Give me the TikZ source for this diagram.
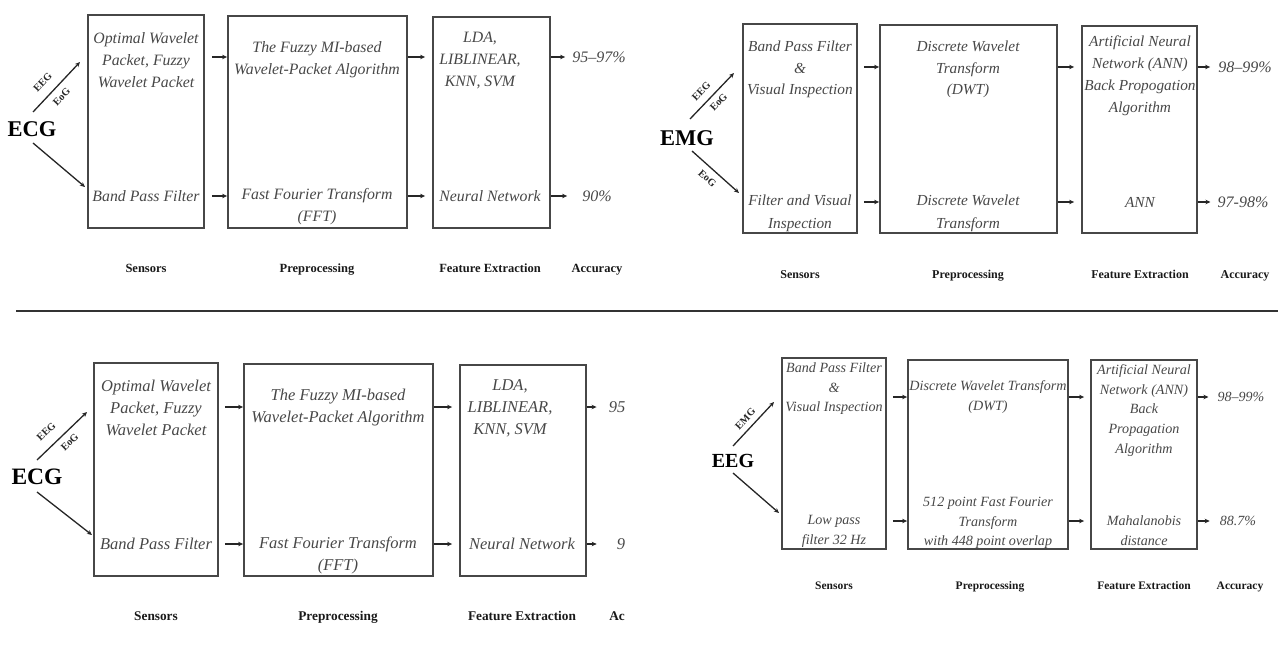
\documentclass[tikz,border=0pt]{standalone}
\usepackage{fontspec}
\setmainfont{Liberation Serif}
\usetikzlibrary{arrows.meta}
\begin{document}
\begin{tikzpicture}[x=1pt,y=-1pt,
 box/.style={draw=black!72, line width=1.8pt, inner sep=0pt, rectangle},
 txt/.style 2 args={font=\itshape\fontsize{#1}{#2}\selectfont, text=black!72, align=center, inner sep=0pt},
 lbl/.style={font=\bfseries\fontsize{#1}{#1}\selectfont, inner sep=0pt, text=black!90, text height=0.68em, text depth=0.22em},
 big/.style={font=\bfseries\fontsize{#1}{#1}\selectfont, inner sep=0pt},
 tag/.style={font=\bfseries\fontsize{10.3}{11}\selectfont, inner sep=0pt, text=black!85},
 arr/.style={-{Stealth[length=5pt,width=4.5pt]}, line width=1.3pt, draw=black!85},
 acc/.style={font=\itshape\fontsize{#1}{#1}\selectfont, text=black!72, inner sep=0pt},
]
\useasboundingbox (0,0) rectangle (1278,650);

% ===== separator =====
\draw[line width=1.8pt, black!80] (16,311) -- (1278,311);

% ===== Panel 1 (top left) =====
\node[box, minimum width=116, minimum height=213] (S1) at (146,121.5) {};
\node[box, minimum width=179, minimum height=212] (P1) at (317.5,122) {};
\node[box, minimum width=117, minimum height=211] (F1) at (491.5,122.5) {};
\node[txt={15.8}{22}] (T1a) at (146,60) {Optimal Wavelet\\Packet, Fuzzy\\Wavelet Packet};
\node[txt={15.8}{22}] (T1b) at (146,196) {Band Pass Filter};
\node[txt={15.8}{22}] (T1c) at (317,60) {The Fuzzy MI-based\\Wavelet-Packet Algorithm};
\node[txt={15.8}{22}] (T1d) at (317,207) {Fast Fourier Transform\\(FFT)};
\node[txt={15.8}{22}] (T1e) at (480,60.5) {LDA,\\LIBLINEAR,\\KNN, SVM};
\node[txt={15.8}{22}] (T1f) at (490,196) {Neural Network};
\node[acc=16] (A1a) at (599,57) {95–97\%};
\node[acc=16] (A1b) at (597,196) {90\%};
\node[lbl=12.5] (L1a) at (146,270) {Sensors};
\node[lbl=12.5] (L1b) at (317,270) {Preprocessing};
\node[lbl=12.5] (L1c) at (490,270) {Feature Extraction};
\node[lbl=12.5] (L1d) at (597,270) {Accuracy};
\node[big=22.5] (E1) at (32,129) {ECG};
\coordinate (e1u) at (33,112);
\coordinate (e1U) at (80,62);
\coordinate (e1d) at (33,143);
\coordinate (e1D) at (85,187);
\draw[arr] (e1u) -- node[tag, sloped, pos=0.41, above=9pt] {EEG} node[tag, sloped, pos=0.45, below=6pt] {EoG} (e1U);
\draw[arr] (e1d) -- (e1D);
\foreach \yy in {57,196}{
 \draw[arr, shorten <=7pt] (S1.east |- 0,\yy) -- (P1.west |- 0,\yy);
 \draw[arr, shorten >=7pt] (P1.east |- 0,\yy) -- (F1.west |- 0,\yy);
}
\draw[arr] (F1.east |- A1a) -- ([xshift=-7pt]A1a.west);
\draw[arr] (F1.east |- A1b) -- ([xshift=-15pt]A1b.west);

% ===== Panel 2 (top right) =====
\node[box, minimum width=114, minimum height=209] (S2) at (800,128.5) {};
\node[box, minimum width=177, minimum height=208] (P2) at (968.5,129) {};
\node[box, minimum width=115, minimum height=207] (F2) at (1139.5,129.5) {};
\node[txt={15.3}{21.5}] (T2a) at (800,69.5) {Band Pass Filter\\\&\\Visual Inspection};
\node[txt={15.3}{22.5}] (T2b) at (800,213.5) {Filter and Visual\\Inspection};
\node[txt={15.3}{21.5}] (T2c) at (968,69.5) {Discrete Wavelet\\Transform\\(DWT)};
\node[txt={15.3}{22.5}] (T2d) at (968,213.5) {Discrete Wavelet\\Transform};
\node[txt={15.3}{22}] (T2e) at (1140,76) {Artificial Neural\\Network (ANN)\\Back Propogation\\Algorithm};
\node[txt={15.3}{22}] (T2f) at (1140,202) {ANN};
\node[acc=16] (A2a) at (1245,67) {98–99\%};
\node[acc=16] (A2b) at (1243,202) {97-98\%};
\node[lbl=12] (L2a) at (800,276) {Sensors};
\node[lbl=12] (L2b) at (968,276) {Preprocessing};
\node[lbl=12] (L2c) at (1140,276) {Feature Extraction};
\node[lbl=12] (L2d) at (1245,276) {Accuracy};
\node[big=22.5] (E2) at (687,138) {EMG};
\coordinate (e2u) at (690,119);
\coordinate (e2U) at (734,73);
\coordinate (e2d) at (692,151);
\coordinate (e2D) at (739,193);
\draw[arr] (e2u) -- node[tag, sloped, pos=0.44, above=7pt] {EEG} node[tag, sloped, pos=0.5, below=5pt] {EoG} (e2U);
\draw[arr] (e2d) -- node[tag, sloped, pos=0.47, below=6pt] {EoG} (e2D);
\foreach \yy in {67,202}{
 \draw[arr, shorten <=6pt] (S2.east |- 0,\yy) -- (P2.west |- 0,\yy);
 \draw[arr, shorten >=7pt] (P2.east |- 0,\yy) -- (F2.west |- 0,\yy);
}
\draw[arr] (F2.east |- A2a) -- ([xshift=-8pt]A2a.west);
\draw[arr] (F2.east |- A2b) -- ([xshift=-7pt]A2b.west);

% ===== Panel 3 (bottom left) =====
\node[box, minimum width=124, minimum height=213] (S3) at (156,469.5) {};
\node[box, minimum width=189, minimum height=212] (P3) at (338.5,470) {};
\node[box, minimum width=126, minimum height=211] (F3) at (523,470.5) {};
\node[txt={16.5}{22}] (T3a) at (156,408) {Optimal Wavelet\\Packet, Fuzzy\\Wavelet Packet};
\node[txt={16.5}{22}] (T3b) at (156,544) {Band Pass Filter};
\node[txt={16.5}{22}] (T3c) at (338,408) {The Fuzzy MI-based\\Wavelet-Packet Algorithm};
\node[txt={16.5}{22}] (T3d) at (338,555.5) {Fast Fourier Transform\\(FFT)};
\node[txt={16.5}{22}] (T3e) at (510,408) {LDA,\\LIBLINEAR,\\KNN, SVM};
\node[txt={16.5}{22}] (T3f) at (522,544) {Neural Network};
\node[acc=16.5] (A3a) at (617,407) {95};
\node[acc=16.5] (A3b) at (621,544) {9};
\node[lbl=13.3] (L3a) at (156,618) {Sensors};
\node[lbl=13.3] (L3b) at (338,618) {Preprocessing};
\node[lbl=13.3] (L3c) at (522,618) {Feature Extraction};
\node[lbl=13.3] (L3d) at (617,618) {Ac};
\node[big=23.5] (E3) at (37,477) {ECG};
\coordinate (e3u) at (37,460);
\coordinate (e3U) at (87,412);
\coordinate (e3d) at (37,492);
\coordinate (e3D) at (92,535);
\draw[arr] (e3u) -- node[tag, sloped, pos=0.38, above=10pt] {EEG} node[tag, sloped, pos=0.52, below=5.5pt] {EoG} (e3U);
\draw[arr] (e3d) -- (e3D);
\foreach \yy in {407,544}{
 \draw[arr, shorten <=6pt] (S3.east |- 0,\yy) -- (P3.west |- 0,\yy);
 \draw[arr, shorten >=7pt] (P3.east |- 0,\yy) -- (F3.west |- 0,\yy);
}
\draw[arr] (F3.east |- A3a) -- ([xshift=-12pt]A3a.west);
\draw[arr] (F3.east |- A3b) -- ([xshift=-20pt]A3b.west);

% ===== Panel 4 (bottom right) =====
\node[box, minimum width=104, minimum height=191] (S4) at (834,453.5) {};
\node[box, minimum width=160, minimum height=189] (P4) at (988,454.5) {};
\node[box, minimum width=106, minimum height=189] (F4) at (1144,454.5) {};
\node[txt={14.1}{19.5}] (T4a) at (834,389) {Band Pass Filter\\\&\\Visual Inspection};
\node[txt={14.1}{20}] (T4b) at (834,531) {Low pass\\filter 32 Hz};
\node[txt={14.1}{20}] (T4c) at (988,397) {Discrete Wavelet Transform\\(DWT)};
\node[txt={14.1}{19.5}] (T4d) at (988,523) {512 point Fast Fourier\\Transform\\with 448 point overlap};
\node[txt={14.1}{19.8}] (T4e) at (1144,410.5) {Artificial Neural\\Network (ANN)\\Back\\Propagation\\Algorithm};
\node[txt={14.1}{19.5}] (T4f) at (1144,530.5) {Mahalanobis\\distance};
\node[acc=14] (A4a) at (1241,397) {98–99\%};
\node[acc=14] (A4b) at (1238,521) {88.7\%};
\node[lbl=11.5] (L4a) at (834,587) {Sensors};
\node[lbl=11.5] (L4b) at (990,587) {Preprocessing};
\node[lbl=11.5] (L4c) at (1144,587) {Feature Extraction};
\node[lbl=11.5] (L4d) at (1240,587) {Accuracy};
\node[big=20] (E4) at (733,461) {EEG};
\coordinate (e4u) at (733,446);
\coordinate (e4U) at (774,402);
\coordinate (e4d) at (733,473);
\coordinate (e4D) at (779,513);
\draw[arr] (e4u) -- node[tag, sloped, pos=0.47, above=5.5pt] {EMG} (e4U);
\draw[arr] (e4d) -- (e4D);
\foreach \yy in {397,521}{
 \draw[arr, shorten <=6pt] (S4.east |- 0,\yy) -- (P4.west |- 0,\yy);
 \draw[arr, shorten >=6pt] (P4.east |- 0,\yy) -- (F4.west |- 0,\yy);
}
\draw[arr] (F4.east |- A4a) -- ([xshift=-9pt]A4a.west);
\draw[arr] (F4.east |- A4b) -- ([xshift=-10pt]A4b.west);
\end{tikzpicture}
\end{document}
